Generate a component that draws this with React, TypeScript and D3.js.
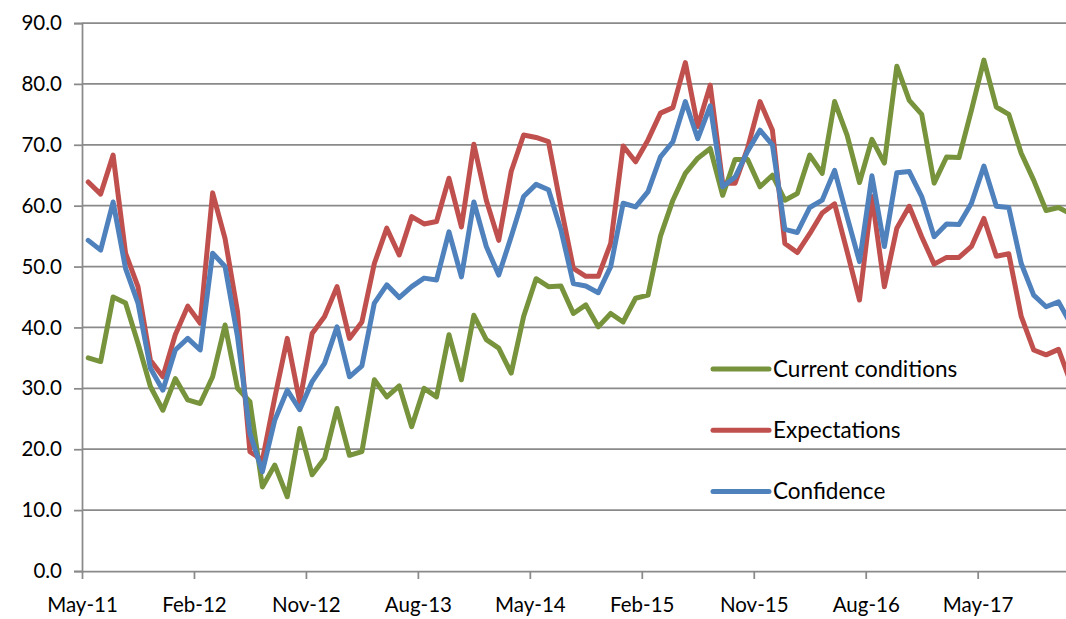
import React, { useEffect, useRef } from 'react';
import * as d3 from 'd3';

// monthly index, first point is May 2011
const startMonth = new Date(2011, 4, 1);
const tickEvery = 9;

const currentConditions = [
    35.0, 34.4, 45.0, 44.0, 37.4, 30.3, 26.4, 31.6, 28.1, 27.5,
    31.9, 40.4, 30.0, 27.8, 13.8, 17.4, 12.2, 23.4, 15.8, 18.5,
    26.7, 19.0, 19.6, 31.4, 28.6, 30.4, 23.7, 30.0, 28.6, 38.8,
    31.4, 42.0, 38.0, 36.6, 32.5, 41.8, 48.0, 46.7, 46.8, 42.3,
    43.7, 40.1, 42.3, 40.9, 44.8, 45.3, 55.0, 60.9, 65.3, 67.8,
    69.4, 61.7, 67.6, 67.6, 63.1, 65.0, 60.9, 62.0, 68.3, 65.3,
    77.1, 71.6, 63.8, 70.9, 67.0, 82.9, 77.3, 75.0, 63.7, 68.0,
    67.9, 75.7, 83.9, 76.2, 75.0, 68.6, 64.2, 59.2, 59.7, 58.6
];

const expectations = [
    63.9, 61.9, 68.3, 52.2, 46.7, 34.6, 31.9, 38.8, 43.5, 40.7,
    62.1, 54.6, 42.6, 19.6, 18.2, 28.5, 38.2, 27.8, 39.0, 41.8,
    46.7, 38.2, 40.9, 50.5, 56.3, 51.9, 58.2, 57.0, 57.4, 64.5,
    56.5, 70.1, 60.9, 54.3, 65.6, 71.6, 71.2, 70.5, 59.8, 49.7,
    48.4, 48.4, 53.8, 69.8, 67.2, 70.8, 75.2, 76.1, 83.5, 73.0,
    79.8, 63.7, 63.7, 69.4, 77.1, 72.4, 53.8, 52.3, 55.4, 58.8,
    60.3, 52.5, 44.5, 61.5, 46.7, 56.3, 59.9, 54.9, 50.4, 51.5,
    51.5, 53.3, 57.9, 51.7, 52.1, 41.8, 36.3, 35.5, 36.4, 30.8
];

const confidence = [
    54.3, 52.7, 60.6, 49.7, 44.0, 33.3, 29.7, 36.3, 38.2, 36.3,
    52.2, 50.0, 38.5, 22.6, 16.3, 24.8, 29.7, 26.5, 31.1, 34.1,
    40.1, 31.9, 33.7, 44.0, 47.0, 44.9, 46.7, 48.1, 47.8, 55.7,
    48.3, 60.6, 53.3, 48.6, 54.9, 61.5, 63.5, 62.6, 56.0, 47.2,
    46.8, 45.7, 50.0, 60.4, 59.8, 62.3, 68.0, 70.5, 77.1, 71.0,
    76.4, 63.1, 64.7, 68.9, 72.4, 70.0, 56.1, 55.6, 59.7, 60.9,
    65.8, 58.2, 50.8, 64.9, 53.3, 65.4, 65.6, 61.5, 54.9, 57.0,
    56.9, 60.4, 66.5, 59.9, 59.7, 50.5, 45.3, 43.4, 44.2, 40.5
];

const seriesNames = ['Current conditions', 'Expectations', 'Confidence'];
const yTicks = [0, 10, 20, 30, 40, 50, 60, 70, 80, 90];

const colors = {
    'Current conditions': '#77933C',
    'Expectations': '#C0504D',
    'Confidence': '#4F81BD'
};

const W = 1066;
const H = 619;
const FONT = 'Lato, "Open Sans", sans-serif';

const App = () => {
    const svgRef = useRef<SVGSVGElement>(null);

    useEffect(() => {
        const svg = d3.select(svgRef.current);
        svg.selectAll('*').remove();

        const n = currentConditions.length;
        const left = 82, top = 23, bottom = 571;
        const monthW = 12.44;

        const x = d3.scaleLinear().domain([0, n]).range([left, left + n * monthW]);
        const y = d3.scaleLinear().domain([0, 90]).range([bottom, top]);

        const fmtMonth = d3.timeFormat('%b-%y');
        const tickIdx = d3.range(0, n, tickEvery);

        // gridlines
        svg.append('g')
            .selectAll('line')
            .data(yTicks.filter((t) => t > 0))
            .enter()
            .append('line')
            .attr('x1', left)
            .attr('x2', W)
            .attr('y1', (d) => y(d))
            .attr('y2', (d) => y(d))
            .attr('stroke', '#8a8a8a')
            .attr('stroke-width', 1.75);

        // y axis
        const yAxis = svg.append('g')
            .attr('transform', `translate(${left},0)`)
            .call(d3.axisLeft(y).tickValues(yTicks).tickFormat(d3.format('.1f')).tickSize(8).tickPadding(12));
        yAxis.select('.domain').attr('stroke', '#8a8a8a').attr('stroke-width', 1.75);
        yAxis.selectAll('.tick line').attr('stroke', '#8a8a8a').attr('stroke-width', 1.75);
        yAxis.selectAll('.tick text')
            .attr('font-family', FONT)
            .attr('font-size', 20.5)
            .attr('fill', '#000');

        // x axis
        const xAxis = svg.append('g')
            .attr('transform', `translate(0,${bottom})`)
            .call(d3.axisBottom(x)
                .tickValues(tickIdx)
                .tickFormat((i) => fmtMonth(d3.timeMonth.offset(startMonth, +i)))
                .tickSize(8)
                .tickSizeOuter(0)
                .tickPadding(18));
        xAxis.select('.domain').attr('stroke', '#8a8a8a').attr('stroke-width', 1.75);
        xAxis.selectAll('.tick line').attr('stroke', '#8a8a8a').attr('stroke-width', 1.75);
        xAxis.selectAll('.tick text')
            .attr('font-family', FONT)
            .attr('font-size', 20.5)
            .attr('fill', '#000');

        // lines
        const allSeries = [currentConditions, expectations, confidence];
        const line = d3.line<number>()
            .x((d, i) => x(i + 0.5))
            .y((d) => y(d));

        svg.append('g')
            .selectAll('path')
            .data(allSeries)
            .enter()
            .append('path')
            .attr('d', (d) => line(d))
            .attr('fill', 'none')
            .attr('stroke', (d, i) => colors[seriesNames[i]])
            .attr('stroke-width', 5)
            .attr('stroke-linejoin', 'round')
            .attr('stroke-linecap', 'round');

        // legend
        const legend = svg.append('g')
            .selectAll('g')
            .data(seriesNames)
            .enter()
            .append('g')
            .attr('transform', (d, i) => `translate(713,${369 + i * 61.3})`);

        legend.append('line')
            .attr('x1', 0)
            .attr('x2', 56)
            .attr('stroke', (d) => colors[d])
            .attr('stroke-width', 5)
            .attr('stroke-linecap', 'round');

        legend.append('text')
            .attr('x', 60)
            .attr('dy', '0.35em')
            .attr('font-family', FONT)
            .attr('font-size', 22.5)
            .attr('fill', '#000')
            .text((d) => d);
    }, []);

    return (
        <svg
            ref={svgRef}
            width={W}
            height={H}
            style={{ position: 'absolute', left: 0, top: 0, background: '#fff' }}
        />
    );
};

export default App;
